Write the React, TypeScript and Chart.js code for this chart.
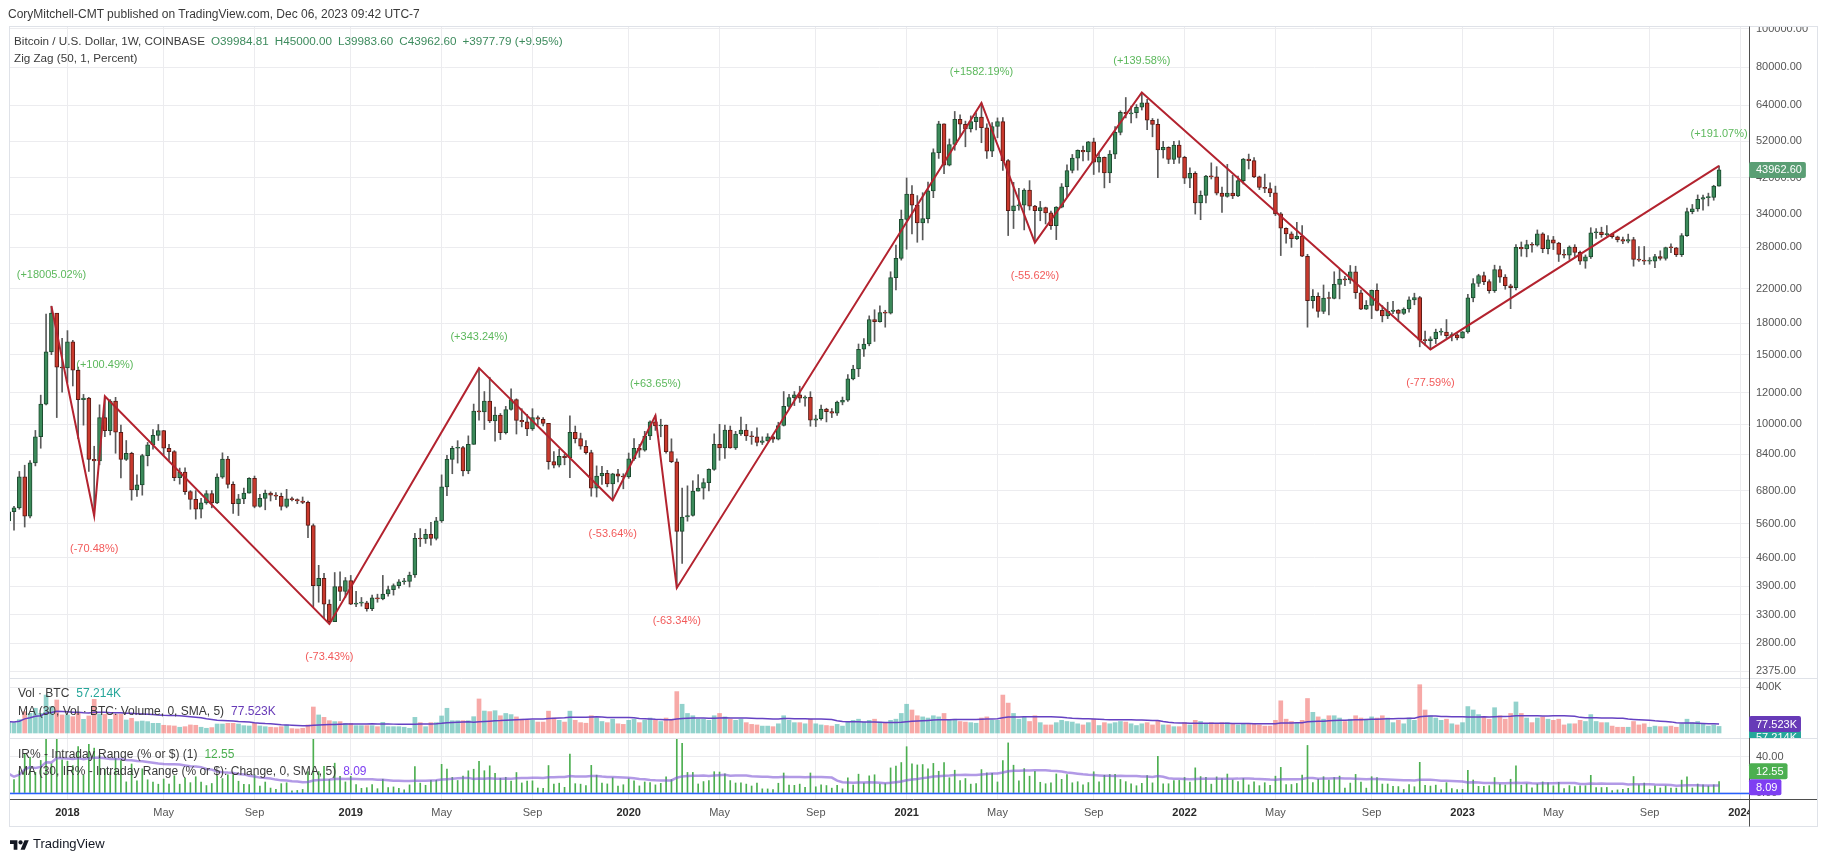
import React, { useEffect, useRef } from "react";
import { Chart, registerables } from "chart.js";

Chart.register(...registerables);

const FONT = '"Liberation Sans", Arial, Helvetica, sans-serif';
Chart.defaults.font.family = FONT;

// Weekly BTC/USD (Coinbase) bars: index 0 = week of 16 Oct 2017, index 320 = week of 4 Dec 2023
const FIRST_OPEN = 5700;
const closes = [
  // 2017
  6010, 6150, 7370, 5860, 7990, 9300, 11250, 15240, 19100, 13950, 13880,
  // 2018
  16150, 13700, 11550, 11650, 8150, 8080, 10400, 9630, 11450, 9550, 8150, 8450, 6830, 7030, 8330, 8880, 9380, 9640, 8700, 8530,
  7330, 7570, 6760, 6460, 6100, 6330, 6680, 6330, 7350, 8170, 7050, 6300, 6480, 6700, 7300, 6200, 6500, 6700, 6620, 6580,
  6200, 6480, 6450, 6400, 6350, 5550, 3910, 4080, 3510, 3170, 3890, 3780, 4025,
  // 2019
  3510, 3530, 3540, 3420, 3640, 3620, 3725, 3820, 3910, 4000, 4010, 4160, 5150, 5130, 5270, 5150, 5700, 6950, 8150, 8700,
  8730, 7620, 8900, 10800, 10750, 11450, 10200, 10550, 9530, 10900, 11550, 10230, 10150, 9730, 10400, 10300, 10050, 8050, 7880, 8300,
  8230, 9550, 9200, 8800, 8480, 6900, 7400, 7520, 7070, 7500, 7390, 7360,
  // 2020
  8180, 8700, 8600, 9340, 10150, 9900, 9960, 8530, 8040, 5360, 5830, 5880, 6780, 6900, 7120, 7690, 8900, 8720, 9670, 8720,
  9450, 9670, 9340, 9300, 9000, 9080, 9300, 9170, 9930, 11100, 11680, 11870, 11650, 11700, 10250, 10330, 10920, 10770, 10670, 11380,
  11500, 13030, 13800, 15480, 15960, 18400, 18180, 19150, 19100, 23480, 26270, 32950,
  // 2021
  38200, 35800, 32300, 33100, 38900, 48600, 57500, 45200, 50970, 59000, 57350, 55800, 58200, 59800, 56200, 49000, 56600, 58200, 46400, 34700,
  35650, 35800, 39100, 35600, 34700, 35300, 34250, 31800, 35400, 39850, 43800, 47100, 49300, 48800, 51800, 46000, 47300, 43200, 48200, 54700,
  61500, 60900, 61300, 63300, 65000, 58700, 57300, 49400, 50100, 46700, 50800, 47300,
  // 2022
  41900, 43100, 36250, 37900, 42400, 42200, 38400, 37700, 38400, 37800, 41300, 46800, 46400, 42200, 39700, 39450, 38450, 34050, 31300, 30300,
  29450, 29900, 26600, 20550, 21050, 19300, 20850, 20800, 22580, 23300, 23180, 24300, 21500, 19550, 19990, 21800, 19400, 18800, 19300, 19450,
  19070, 19560, 20630, 20900, 16330, 16280, 16450, 17100, 17100, 16750, 16840, 16540,
  // 2023
  17120, 20880, 22700, 23750, 22950, 21780, 24600, 23550, 22400, 22150, 28000, 27750, 28450, 28350, 30300, 27800, 29250, 28700, 26900, 26750,
  28050, 27200, 25850, 26500, 30500, 30600, 30150, 30250, 29800, 29300, 29050, 29300, 26100, 26000, 25850, 25850, 26550, 26250, 27990, 27950,
  26850, 30000, 34500, 35050, 37050, 37400, 37450, 39984.81, 43962.6,
];
const highs = [
  6200, 6200, 7600, 7880, 8100, 9650, 11850, 19000, 19891, 19000, 16500,
  17250, 16300, 13950, 11900, 11700, 8800, 11200, 11775, 11550, 11700, 9950, 9100, 8500, 7450, 8400, 9000, 9700, 9990, 9650, 8900,
  8580, 7750, 7760, 6800, 6800, 6500, 6800, 6800, 7500, 8470, 8300, 7150, 6650, 6900, 7330, 7400, 6650, 6820, 6750, 6720,
  6700, 6850, 6550, 6480, 6550, 6400, 5600, 4400, 4200, 3600, 4220, 4240, 4100,
  4150, 3780, 3650, 3570, 3700, 3720, 4150, 3900, 3950, 4050, 4080, 4230, 5300, 5450, 5430, 5650, 5820, 7450, 8350, 8800,
  9090, 8800, 9350, 11250, 13865, 12100, 13150, 11050, 10650, 11100, 12300, 11600, 10950, 10600, 10950, 10500, 10400, 10050, 8530, 8650,
  8400, 10500, 9900, 9500, 9100, 8600, 7850, 7830, 7650, 7520, 7700, 7500,
  8460, 9200, 8900, 9600, 10200, 10520, 10300, 9960, 9190, 8180, 6900, 6990, 7200, 7460, 7290, 7720, 9460, 10000, 9950, 9900,
  9600, 10430, 10000, 9590, 9800, 9300, 9470, 9340, 10120, 12100, 11900, 12100, 12480, 11800, 12090, 10550, 11180, 10980, 10960, 11440,
  11720, 13350, 14100, 15960, 16480, 18800, 19480, 19920, 19420, 24300, 28400, 34800,
  41950, 40100, 37850, 38500, 40950, 49700, 58350, 57500, 52640, 61780, 60600, 58400, 60200, 61300, 64895, 57500, 57900, 59500, 59600, 46700,
  40900, 39500, 39400, 41300, 35750, 36600, 35400, 34600, 35500, 40600, 45300, 48100, 49400, 50500, 51900, 52900, 48800, 47400, 49200, 56600,
  62000, 67000, 63700, 64300, 69000, 66300, 59300, 59100, 51900, 50300, 51900, 52100,
  47600, 44500, 43500, 38900, 42600, 45800, 44800, 39800, 45400, 42600, 42400, 47000, 48200, 47200, 42400, 42900, 40800, 40000, 34300, 31400,
  30650, 32400, 31800, 26900, 21900, 21500, 22500, 21600, 24300, 24650, 23650, 25200, 25100, 21850, 20550, 21850, 22650, 19950, 20350, 20450,
  19500, 19700, 20990, 21450, 21050, 17200, 16650, 17400, 17450, 18400, 17050, 16950,
  17170, 21300, 23350, 23950, 24250, 23200, 25250, 25100, 23900, 22600, 28450, 28900, 29200, 28800, 31000, 30500, 30000, 29850, 28850, 27650,
  28250, 28450, 27400, 26800, 31400, 31250, 31500, 31800, 30350, 29900, 29750, 30250, 29700, 28150, 28150, 26400, 26900, 27450, 28050, 28600,
  28000, 30350, 35200, 35950, 38000, 37950, 38400, 40200, 45000,
];
const lows = [
  5110, 5400, 6100, 5500, 5800, 7850, 8700, 11200, 15000, 10400, 12050,
  12750, 12500, 9200, 9950, 7600, 5873, 7900, 9300, 9400, 8450, 7320, 8100, 6430, 6570, 6620, 7850, 8650, 9100, 8350, 8100,
  7200, 7060, 6650, 6100, 5760, 5800, 6280, 6150, 6300, 7300, 6900, 5950, 5880, 6300, 6700, 6150, 6170, 6080, 6400, 6450,
  6070, 6150, 6400, 6300, 6300, 5170, 3460, 3550, 3240, 3129, 3170, 3580, 3650,
  3500, 3460, 3470, 3370, 3380, 3550, 3600, 3680, 3700, 3850, 3940, 3880, 4100, 4910, 5000, 4950, 5100, 5650, 6600, 7500,
  7980, 7400, 7500, 8900, 10250, 9700, 10100, 9070, 9150, 9450, 10850, 9450, 9850, 9360, 9650, 9950, 9900, 7700, 7760, 7800,
  7900, 7330, 8970, 8650, 8400, 6580, 6550, 7050, 6950, 6428, 7150, 6870,
  7300, 8100, 8250, 8550, 9150, 9650, 9300, 8450, 8000, 3858, 4450, 5690, 5860, 6780, 6470, 6790, 7650, 8110, 8200, 8700,
  8640, 9380, 9100, 8900, 8820, 8890, 9060, 9000, 9130, 9900, 10950, 11150, 11360, 11110, 9890, 9870, 10250, 10140, 10400, 10530,
  11200, 11420, 12950, 13200, 14840, 15790, 16200, 18110, 17600, 19000, 21850, 26000,
  27700, 30300, 28850, 29250, 32300, 37400, 47000, 43000, 45000, 49300, 53250, 50300, 54800, 55500, 51500, 47000, 47500, 53000, 43800, 30000,
  31250, 34800, 31000, 34800, 28800, 32700, 32100, 31100, 29300, 35250, 37600, 43200, 43900, 46300, 46500, 42800, 43400, 39600, 40800, 46900,
  53900, 59500, 57800, 59500, 62300, 55600, 53300, 42000, 47100, 45600, 45600, 45700,
  40600, 39650, 34000, 32900, 36300, 41700, 38000, 34300, 37500, 37200, 37600, 40500, 44200, 42000, 39200, 38500, 37600, 33700, 26700, 28700,
  28000, 29300, 26550, 17600, 19650, 18650, 19050, 18900, 20750, 20750, 22400, 22700, 20800, 19500, 19500, 18500, 19350, 18150, 18500, 19050,
  18200, 18950, 19200, 20050, 15700, 15850, 15463, 16000, 16800, 16500, 16250, 16350,
  16500, 17000, 20400, 22300, 22550, 21450, 21550, 22850, 21950, 19600, 21850, 26600, 26500, 27250, 28200, 27150, 26950, 27650, 25800, 26350,
  26100, 26550, 25350, 24800, 26250, 29500, 29700, 29950, 29550, 28900, 28600, 28750, 25100, 25800, 25350, 25400, 24900, 26000, 26000, 27150,
  26550, 26550, 29850, 34050, 34550, 34800, 35650, 36850, 39983.6,
];
// Weekly volume, thousands of BTC
const volumesK = [
  100, 90, 116, 186, 171, 215, 171, 330, 229, 287, 157,
  157, 142, 171, 119, 148, 293, 165, 162, 119, 162, 165, 113, 128, 99, 104, 99, 84, 84, 67, 64,
  61, 50, 55, 70, 67, 50, 41, 47, 78, 78, 84, 84, 78, 64, 61, 84, 61, 55, 50, 47,
  55, 70, 38, 35, 41, 70, 226, 157, 136, 107, 99, 99, 84,
  84, 64, 64, 64, 64, 55, 93, 55, 55, 55, 50, 41, 136, 90, 55, 90, 90, 148, 215, 107,
  107, 107, 107, 142, 296, 191, 186, 194, 150, 170, 160, 140, 120, 110, 110, 95, 95, 190, 130, 110,
  95, 190, 110, 90, 85, 150, 130, 100, 90, 120, 80, 75,
  110, 120, 90, 110, 130, 110, 100, 130, 120, 360, 250, 170, 150, 120, 120, 110, 150, 170, 140, 120,
  110, 120, 90, 75, 70, 60, 60, 55, 80, 150, 110, 90, 90, 80, 120, 80, 70, 65, 60, 75,
  60, 100, 110, 120, 95, 110, 120, 95, 85, 110, 120, 170,
  250, 200, 150, 140, 130, 150, 140, 170, 110, 120, 100, 95, 90, 85, 130, 140, 110, 110, 330, 260,
  170, 120, 140, 100, 150, 90, 70, 70, 90, 110, 100, 95, 80, 70, 90, 120, 65, 90, 80, 90,
  100, 95, 80, 65, 80, 90, 70, 110, 70, 70, 55, 55,
  90, 70, 110, 100, 80, 90, 80, 90, 90, 75, 70, 80, 75, 75, 70, 60, 60, 110, 280, 120,
  100, 90, 110, 300, 180, 140, 120, 150, 150, 130, 100, 120, 150, 130, 120, 140, 130, 150, 130, 90,
  110, 80, 130, 110, 420, 200, 150, 130, 110, 120, 80, 70,
  90, 230, 200, 160, 140, 120, 220, 150, 120, 170, 270, 170, 130, 90, 130, 140, 120, 110, 120, 70,
  80, 80, 110, 100, 160, 100, 90, 90, 60, 50, 50, 50, 100, 70, 80, 50, 60, 55, 55, 60,
  50, 80, 120, 90, 100, 80, 60, 70, 57.214,
];

// Zig Zag (50, 1, Percent) pivots: bar index, whether it is a high, and its label
const pivotIdx = [8, 16, 18, 60, 88, 113, 121, 125, 182, 192, 212, 266, 320];
const pivotIsHigh = [true, false, true, false, true, false, true, false, true, false, true, false, true];
const pivotLabels = [
  "(+18005.02%)", "(-70.48%)", "(+100.49%)", "(-73.43%)", "(+343.24%)", "(-53.64%)", "(+63.65%)",
  "(-63.34%)", "(+1582.19%)", "(-55.62%)", "(+139.58%)", "(-77.59%)", "(+191.07%)",
];

const priceTicks = [100000, 80000, 64000, 52000, 42000, 34000, 28000, 22000, 18000, 15000, 12000, 10000, 8400, 6800, 5600, 4600, 3900, 3300, 2800, 2375];
const volTicks = [400];
const irTicks = [0, 40];
const timeTickIdx = [11, 29, 46, 64, 81, 98, 116, 133, 151, 168, 185, 203, 220, 237, 255, 272, 289, 307, 324];
const timeTickLabels = ["2018", "May", "Sep", "2019", "May", "Sep", "2020", "May", "Sep", "2021", "May", "Sep", "2022", "May", "Sep", "2023", "May", "Sep", "2024"];

const VOL_LAST_TEXT = "57.214K";
const VOL_MA_TEXT = "77.523K";
const VOL_MA_VALUE = 77.523;
const IR_LAST_TEXT = "12.55";
const IR_MA_TEXT = "8.09";
const IR_MA_VALUE = 8.09;

const GRID = "#ececef";
const UP_BODY = "#3b8a5a";
const UP_BORDER = "#1c4a2f";
const DN_BODY = "#c9392d";
const DN_BORDER = "#5a1a15";
const WICK = "#5a5a5a";
const ZIGZAG = "#b3232f";
const VOL_UP = "rgba(38,166,154,0.5)";
const VOL_DN = "rgba(239,83,80,0.5)";
const VOL_MA_COLOR = "#6541c2";
const IR_BAR = "#4caf50";
const IR_MA_COLOR = "rgba(126,87,214,0.6)";
const LEGEND_GREEN = "#3d8b5d";

const opens = closes.map((c, i) => (i === 0 ? FIRST_OPEN : closes[i - 1]));
const isUp = closes.map((c, i) => c >= opens[i]);
const irPct = highs.map((h, i) => ((h - lows[i]) / lows[i]) * 100);

function sma(arr: number[], n: number) {
  return arr.map((_, i) => {
    const s = Math.max(0, i - n + 1);
    let sum = 0;
    for (let k = s; k <= i; k++) sum += arr[k];
    return sum / (i - s + 1);
  });
}
const volMA = sma(volumesK, 30);
const irMA = sma(irPct, 30);

function roundRect(ctx: CanvasRenderingContext2D, x: number, y: number, w: number, h: number, r: number) {
  ctx.beginPath();
  ctx.moveTo(x + r, y);
  ctx.lineTo(x + w - r, y);
  ctx.quadraticCurveTo(x + w, y, x + w, y + r);
  ctx.lineTo(x + w, y + h - r);
  ctx.quadraticCurveTo(x + w, y + h, x + w - r, y + h);
  ctx.lineTo(x + r, y + h);
  ctx.quadraticCurveTo(x, y + h, x, y + h - r);
  ctx.lineTo(x, y + r);
  ctx.quadraticCurveTo(x, y, x + r, y);
  ctx.closePath();
}

const overlayPlugin = {
  id: "overlay",
  afterDatasetsDraw(chart: any) {
    const { ctx, chartArea } = chart;
    const xs = chart.scales.x;
    const ys = chart.scales.y;
    const yir = chart.scales.yIR;
    ctx.save();
    const z = Math.round(yir.getPixelForValue(0)) + 0.5;
    ctx.strokeStyle = "#2962ff";
    ctx.lineWidth = 1.5;
    ctx.beginPath();
    ctx.moveTo(chartArea.left, z);
    ctx.lineTo(chartArea.right, z);
    ctx.stroke();

    ctx.font = `11px ${FONT}`;
    ctx.textAlign = "center";
    ctx.textBaseline = "middle";
    pivotIdx.forEach((idx, k) => {
      const hi = pivotIsHigh[k];
      const px = xs.getPixelForValue(idx);
      const py = ys.getPixelForValue(hi ? highs[idx] : lows[idx]);
      ctx.fillStyle = hi ? "#5cb85c" : "#f25a5a";
      ctx.fillText(pivotLabels[k], px, hi ? py - 31.5 : py + 33.5);
    });
    ctx.restore();
  },
  afterDraw(chart: any) {
    const { ctx, chartArea } = chart;
    const W = chart.width;
    const ys = chart.scales.y;
    const yv = chart.scales.yVol;
    const yir = chart.scales.yIR;
    ctx.save();
    ctx.fillStyle = "#ffffff";
    ctx.fillRect(chartArea.right + 1, 0, W - chartArea.right, 26);
    ctx.fillRect(chartArea.right + 1, chartArea.bottom + 1, W - chartArea.right, 40);

    const line = (x1: number, y1: number, x2: number, y2: number) => {
      ctx.beginPath();
      ctx.moveTo(x1, y1);
      ctx.lineTo(x2, y2);
      ctx.stroke();
    };
    ctx.lineWidth = 1;
    ctx.strokeStyle = "#dfe2e8";
    ctx.strokeRect(9.5, 26.5, 1808, 800);
    [yv.top, yir.top].forEach((t: number) => {
      const yy = Math.round(t) + 0.5;
      line(10, yy, 1817, yy);
    });
    ctx.strokeStyle = "#4e4e4e";
    line(chartArea.right + 0.5, 26.5, chartArea.right + 0.5, 826.5);
    line(10, chartArea.bottom + 0.5, 1817, chartArea.bottom + 0.5);

    const box = (text: string, yc: number, bg: string) => {
      ctx.font = `11px ${FONT}`;
      const tw = ctx.measureText(text).width;
      ctx.fillStyle = bg;
      roundRect(ctx, chartArea.right, yc - 8, tw + 11, 16, 2);
      ctx.fill();
      ctx.fillStyle = "#ffffff";
      ctx.textAlign = "left";
      ctx.textBaseline = "middle";
      ctx.fillText(text, chartArea.right + 7, yc + 0.5);
    };
    const last = closes.length - 1;
    box(closes[last].toFixed(2), ys.getPixelForValue(closes[last]), "#5a9e74");

    ctx.save();
    ctx.beginPath();
    ctx.rect(chartArea.right, yv.top, W - chartArea.right, yv.bottom - yv.top);
    ctx.clip();
    box(VOL_LAST_TEXT, yv.getPixelForValue(volumesK[last]) + 11.5, "#26a69a");
    box(VOL_MA_TEXT, yv.getPixelForValue(VOL_MA_VALUE), "#673ab7");
    ctx.restore();

    box(IR_LAST_TEXT, yir.getPixelForValue(irPct[last]) - 10.5, "#4caf50");
    box(IR_MA_TEXT, yir.getPixelForValue(IR_MA_VALUE) + 1.6, "#7e3ff2");
    ctx.restore();
  },
};

function Txt(props: { x: number; y: number; size?: number; color?: string; children: any }) {
  const size = props.size || 12;
  return (
    <div
      style={{
        position: "absolute",
        left: props.x,
        top: props.y - 8,
        height: 16,
        lineHeight: "16px",
        fontSize: size,
        color: props.color || "#3a3a3a",
        whiteSpace: "pre",
        pointerEvents: "none",
      }}
    >
      {props.children}
    </div>
  );
}

export default function App() {
  const canvasRef = useRef<HTMLCanvasElement>(null);

  useEffect(() => {
    const canvas = canvasRef.current;
    if (!canvas) return;
    const idx = closes.map((_, i) => i);
    const chart = new Chart(canvas, {
      type: "bar",
      data: {
        datasets: [
          {
            type: "line",
            label: "Zig Zag",
            data: pivotIdx.map((i, k) => ({ x: i, y: pivotIsHigh[k] ? highs[i] : lows[i] })),
            yAxisID: "y",
            borderColor: ZIGZAG,
            borderWidth: 2,
            pointRadius: 0,
            tension: 0,
            order: 1,
          } as any,
          {
            type: "bar",
            label: "bodies",
            data: idx.map((i) => ({ x: i, y: [opens[i], closes[i]] })),
            yAxisID: "y",
            backgroundColor: idx.map((i) => (isUp[i] ? UP_BODY : DN_BODY)),
            borderColor: idx.map((i) => (isUp[i] ? UP_BORDER : DN_BORDER)),
            borderWidth: 1,
            borderSkipped: false,
            barThickness: 4,
            minBarLength: 1,
            grouped: false,
            order: 4,
          } as any,
          {
            type: "bar",
            label: "wicks",
            data: idx.map((i) => ({ x: i, y: [lows[i], highs[i]] })),
            yAxisID: "y",
            backgroundColor: WICK,
            barThickness: 1,
            grouped: false,
            order: 5,
          } as any,
          {
            type: "bar",
            label: "Vol",
            data: idx.map((i) => ({ x: i, y: volumesK[i] })),
            yAxisID: "yVol",
            backgroundColor: idx.map((i) => (isUp[i] ? VOL_UP : VOL_DN)),
            barThickness: 4,
            grouped: false,
            order: 5,
          } as any,
          {
            type: "line",
            label: "Vol MA",
            data: idx.map((i) => ({ x: i, y: volMA[i] })),
            yAxisID: "yVol",
            borderColor: VOL_MA_COLOR,
            borderWidth: 1.5,
            pointRadius: 0,
            tension: 0,
            order: 2,
          } as any,
          {
            type: "bar",
            label: "IR%",
            data: idx.map((i) => ({ x: i, y: irPct[i] })),
            yAxisID: "yIR",
            backgroundColor: IR_BAR,
            barThickness: 1,
            grouped: false,
            order: 5,
          } as any,
          {
            type: "line",
            label: "IR MA",
            data: idx.map((i) => ({ x: i, y: irMA[i] })),
            yAxisID: "yIR",
            borderColor: IR_MA_COLOR,
            borderWidth: 2.5,
            pointRadius: 0,
            tension: 0,
            order: 2,
          } as any,
        ],
      },
      options: {
        responsive: false,
        animation: false,
        events: [],
        layout: { padding: { left: 10, top: 27, right: 10, bottom: 36 } },
        plugins: { legend: { display: false }, tooltip: { enabled: false } },
        scales: {
          y: {
            type: "logarithmic",
            position: "right",
            stack: "panes",
            stackWeight: 651,
            min: 2284,
            max: 101000,
            grid: { color: GRID, drawTicks: false },
            border: { display: false },
            afterBuildTicks: (s: any) => {
              s.ticks = priceTicks.map((v) => ({ value: v }));
            },
            afterFit: (s: any) => {
              s.width = 68;
            },
            ticks: {
              autoSkip: false,
              padding: 7,
              color: "#555",
              font: { size: 11, family: FONT },
              callback: (v: any) => Number(v).toFixed(2),
            },
          },
          yVol: {
            type: "linear",
            position: "right",
            stack: "panes",
            stackWeight: 60,
            min: -43.5,
            max: 478.3,
            grid: { color: GRID, drawTicks: false },
            border: { display: false },
            afterBuildTicks: (s: any) => {
              s.ticks = volTicks.map((v) => ({ value: v }));
            },
            afterFit: (s: any) => {
              s.width = 68;
            },
            ticks: {
              autoSkip: false,
              padding: 7,
              color: "#555",
              font: { size: 11, family: FONT },
              callback: (v: any) => `${v}K`,
            },
          },
          yIR: {
            type: "linear",
            position: "right",
            stack: "panes",
            stackWeight: 61,
            min: -6.67,
            max: 61.1,
            grid: { color: GRID, drawTicks: false },
            border: { display: false },
            afterBuildTicks: (s: any) => {
              s.ticks = irTicks.map((v) => ({ value: v }));
            },
            afterFit: (s: any) => {
              s.width = 68;
            },
            ticks: {
              autoSkip: false,
              padding: 7,
              color: "#555",
              font: { size: 11, family: FONT },
              callback: (v: any) => Number(v).toFixed(2),
            },
          },
          x: {
            type: "linear",
            position: "bottom",
            min: 0.25,
            max: 325.6,
            offset: false,
            grid: { color: GRID, drawTicks: false, offset: false },
            border: { display: false },
            afterBuildTicks: (s: any) => {
              s.ticks = timeTickIdx.map((v) => ({ value: v }));
            },
            afterFit: (s: any) => {
              s.height = 27;
            },
            ticks: {
              autoSkip: false,
              maxRotation: 0,
              padding: 7,
              color: (c: any) => (/^\d{4}$/.test(timeTickLabels[c.index] || "") ? "#2a2a2a" : "#555"),
              font: (c: any) => ({
                size: 11,
                family: FONT,
                weight: /^\d{4}$/.test(timeTickLabels[c.index] || "") ? "bold" : "normal",
              }),
              callback: (v: any) => timeTickLabels[timeTickIdx.indexOf(Number(v))] ?? "",
            },
          },
        },
      } as any,
      plugins: [overlayPlugin],
    });
    return () => chart.destroy();
  }, []);

  const last = closes.length - 1;
  const chg = closes[last] - opens[last];
  const chgPct = (chg / opens[last]) * 100;

  return (
    <div
      style={{
        position: "fixed",
        left: 0,
        top: 0,
        width: 1827,
        height: 862,
        background: "#ffffff",
        fontFamily: FONT,
        overflow: "hidden",
      }}
    >
      <canvas
        ref={canvasRef}
        width={1827}
        height={862}
        style={{ position: "absolute", left: 0, top: 0, width: 1827, height: 862 }}
      />
      <Txt x={8} y={14}>CoryMitchell-CMT published on TradingView.com, Dec 06, 2023 09:42 UTC-7</Txt>
      <Txt x={14} y={41} size={11.7}>
        <span>Bitcoin / U.S. Dollar, 1W, COINBASE</span>
        <span style={{ color: LEGEND_GREEN, marginLeft: 6 }}>O{opens[last].toFixed(2)}</span>
        <span style={{ color: LEGEND_GREEN, marginLeft: 6 }}>H{highs[last].toFixed(2)}</span>
        <span style={{ color: LEGEND_GREEN, marginLeft: 6 }}>L{lows[last].toFixed(2)}</span>
        <span style={{ color: LEGEND_GREEN, marginLeft: 6 }}>C{closes[last].toFixed(2)}</span>
        <span style={{ color: LEGEND_GREEN, marginLeft: 6 }}>
          {(chg >= 0 ? "+" : "") + chg.toFixed(2)} ({(chgPct >= 0 ? "+" : "") + chgPct.toFixed(2)}%)
        </span>
      </Txt>
      <Txt x={14} y={58} size={11.7}>Zig Zag (50, 1, Percent)</Txt>

      <Txt x={18} y={693}>
        <span>Vol · BTC</span>
        <span style={{ color: "#26a69a", marginLeft: 7 }}>{VOL_LAST_TEXT}</span>
      </Txt>
      <Txt x={18} y={711}>
        <span>MA (30, Vol · BTC: Volume, 0, SMA, 5)</span>
        <span style={{ color: "#673ab7", marginLeft: 7 }}>{VOL_MA_TEXT}</span>
      </Txt>
      <Txt x={18} y={754}>
        <span>IR% - Intraday Range (% or $) (1)</span>
        <span style={{ color: "#4caf50", marginLeft: 7 }}>{IR_LAST_TEXT}</span>
      </Txt>
      <Txt x={18} y={771}>
        <span>MA (30, IR% - Intraday Range (% or $): Change, 0, SMA, 5)</span>
        <span style={{ color: "#7e3ff2", marginLeft: 7 }}>{IR_MA_TEXT}</span>
      </Txt>

      <svg
        width={19}
        height={12}
        viewBox="0 0 36 22"
        style={{ position: "absolute", left: 10, top: 838 }}
      >
        <path d="M14 22H7V11H0V4h14v18z" fill="#131722" />
        <circle cx="20" cy="8" r="4" fill="#131722" />
        <path d="M28 22h-8l7.5-18h8L28 22z" fill="#131722" />
      </svg>
      <Txt x={33} y={844} size={13} color="#131722">TradingView</Txt>
    </div>
  );
}
